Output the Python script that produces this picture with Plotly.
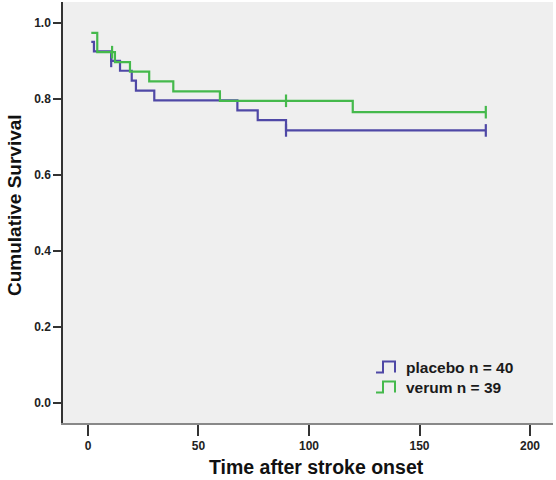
import plotly.graph_objects as go

# Placebo (n = 40) Kaplan-Meier steps
placebo_time = [1.5, 2.7, 10.5, 14.5, 19.8, 21.7, 30.0, 67.6, 76.8, 89.6, 180.0]
placebo_surv = [0.950, 0.925, 0.900, 0.874, 0.848, 0.822, 0.796, 0.770, 0.744, 0.717, 0.717]
placebo_cens_time = [10.5, 89.6, 180.0]
placebo_cens_surv = [0.900, 0.717, 0.717]

# Verum (n = 39) Kaplan-Meier steps
verum_time = [1.5, 4.2, 12.2, 19.0, 27.7, 38.6, 59.7, 119.8, 180.0]
verum_surv = [0.974, 0.923, 0.897, 0.872, 0.846, 0.820, 0.795, 0.765, 0.765]
verum_cens_time = [10.9, 89.6, 180.0]
verum_cens_surv = [0.923, 0.795, 0.765]

legend_labels = ["placebo n = 40", "verum n = 39"]
x_title = "Time after stroke onset"
y_title = "Cumulative Survival"
x_ticks = [0, 50, 100, 150, 200]
y_ticks = [0.0, 0.2, 0.4, 0.6, 0.8, 1.0]

BLUE = "#4f48a6"
GREEN = "#45b94c"
FONT = "Arial, Liberation Sans, sans-serif"

fig = go.Figure()
fig.add_trace(go.Scatter(x=placebo_time, y=placebo_surv, mode="lines",
                         line=dict(color=BLUE, width=2.2, shape="hv"), showlegend=False))
fig.add_trace(go.Scatter(x=verum_time, y=verum_surv, mode="lines",
                         line=dict(color=GREEN, width=2.2, shape="hv"), showlegend=False))
fig.add_trace(go.Scatter(x=placebo_cens_time, y=placebo_cens_surv, mode="markers",
                         marker=dict(symbol="line-ns", size=9, line=dict(color=BLUE, width=2.2)),
                         showlegend=False))
fig.add_trace(go.Scatter(x=verum_cens_time, y=verum_cens_surv, mode="markers",
                         marker=dict(symbol="line-ns", size=9, line=dict(color=GREEN, width=2.2)),
                         showlegend=False))

# Custom legend with step icons
W, H = 556, 480
ml, mr, mt, mb = 63, 3, 2, 57
pw, ph = W - ml - mr, H - mt - mb

def px(x):
    return (x - ml) / pw

def py(y):
    return 1 - (y - mt) / ph

for i, (lab, col) in enumerate(zip(legend_labels, [BLUE, GREEN])):
    top = 361.5 + i * 20
    bot = top + 11
    path = (f"M {px(376)},{py(bot)} L {px(383)},{py(bot)} L {px(383)},{py(top)} "
            f"L {px(395)},{py(top)} L {px(395)},{py(bot)}")
    fig.add_shape(type="path", path=path, xref="paper", yref="paper",
                  line=dict(color=col, width=2))
    fig.add_annotation(x=px(404), y=py((top + bot) / 2), xref="paper", yref="paper",
                       text=f"<b>{lab}</b>", showarrow=False, xanchor="left", yanchor="middle",
                       font=dict(family=FONT, size=15.5, color="#1a1a1a"))

# Axis titles
fig.add_annotation(x=px(316), y=py(467), xref="paper", yref="paper",
                   text=f"<b>{x_title}</b>", showarrow=False, xanchor="center", yanchor="middle",
                   font=dict(family=FONT, size=19.5, color="#111"))
fig.add_annotation(x=px(14), y=py(205), xref="paper", yref="paper", textangle=-90,
                   text=f"<b>{y_title}</b>", showarrow=False, xanchor="center", yanchor="middle",
                   font=dict(family=FONT, size=19, color="#111"))

fig.update_layout(
    width=W, height=H,
    margin=dict(l=ml, r=mr, t=mt, b=mb, autoexpand=False),
    paper_bgcolor="white", plot_bgcolor="#efefef",
    font=dict(family=FONT, color="#222"),
)
fig.update_xaxes(
    range=[-11.3, 210.4], tickvals=x_ticks, ticktext=[f"<b>{v}</b>" for v in x_ticks],
    tickfont=dict(size=12, color="#222"), ticks="outside", ticklen=11, tickwidth=1.5,
    tickcolor="#333", showline=True, linecolor="#888", linewidth=1.5, showgrid=False,
    zeroline=False, automargin=False,
)
fig.update_yaxes(
    range=[-0.053, 1.055], tickvals=y_ticks, ticktext=[f"<b>{v:.1f}</b>" for v in y_ticks],
    tickfont=dict(size=12, color="#222"), ticks="outside", ticklen=8, tickwidth=1.5,
    tickcolor="#333", showline=True, linecolor="#333", linewidth=1.5, showgrid=False,
    zeroline=False, automargin=False,
)

fig.write_html("out.html", config={"displayModeBar": False},
               post_script="document.body.style.margin='0';document.body.style.overflow='hidden';")
